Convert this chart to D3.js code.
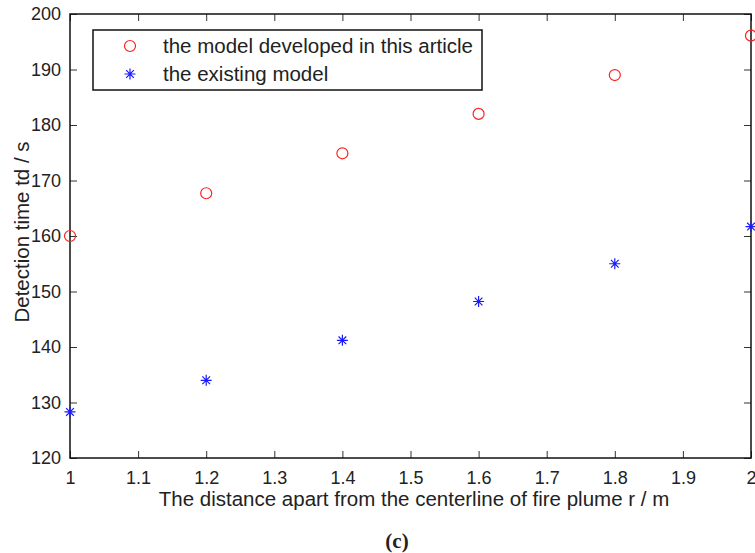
<!DOCTYPE html>
<html>
<head>
<meta charset="utf-8">
<script src="https://cdn.jsdelivr.net/npm/d3@7"></script>
<style>
  body { margin: 0; background: #fff; }
  text { font-family: "Liberation Sans", Arial, sans-serif; fill: #222; }
</style>
</head>
<body>
<div id="chart"></div>
<script>
(function(){

  // values
  var distances = [1, 1.2, 1.4, 1.6, 1.8, 2]
  var developedModel = [160, 167.7, 174.9, 182, 189, 196.1]
  var existingModel = [128.3, 134, 141.2, 148.2, 155, 161.7]
  var xTicks = [1, 1.1, 1.2, 1.3, 1.4, 1.5, 1.6, 1.7, 1.8, 1.9, 2]
  var yTicks = [120, 130, 140, 150, 160, 170, 180, 190, 200]

  var W = 755, H = 553
  var margin = { top: 14, right: 4, bottom: 95, left: 70 }
  var width = W - margin.left - margin.right,
      height = H - margin.top - margin.bottom

  var svg = d3.select("#chart").append("svg")
    .attr("width", W)
    .attr("height", H)

  var g = svg.append("g")
    .attr("transform", "translate(" + margin.left + "," + margin.top + ")")

  var x = d3.scaleLinear().domain([1, 2]).range([0, width])
  var y = d3.scaleLinear().domain([120, 200]).range([height, 0])

  var tickLen = 7

  // ticks on all 4 sides, pointing in
  g.append("g")
    .attr("transform", "translate(0," + height + ")")
    .call(d3.axisBottom(x).tickValues(xTicks).tickSize(-tickLen).tickPadding(tickLen + 6).tickFormat(d3.format("")))
    .call(function(a){ a.select(".domain").remove() })
  g.append("g")
    .call(d3.axisTop(x).tickValues(xTicks).tickSize(-tickLen).tickFormat(""))
    .call(function(a){ a.select(".domain").remove() })
  g.append("g")
    .call(d3.axisLeft(y).tickValues(yTicks).tickSize(-tickLen).tickPadding(tickLen + 2).tickFormat(d3.format("")))
    .call(function(a){ a.select(".domain").remove() })
  g.append("g")
    .attr("transform", "translate(" + width + ",0)")
    .call(d3.axisRight(y).tickValues(yTicks).tickSize(-tickLen).tickFormat(""))
    .call(function(a){ a.select(".domain").remove() })

  g.selectAll(".tick line").attr("stroke", "#333").attr("stroke-width", 1)
  g.selectAll(".tick text")
    .style("font-family", '"Liberation Sans", Arial, sans-serif')
    .style("font-size", "18px")
    .attr("fill", "#222")

  g.append("rect")
    .attr("width", width)
    .attr("height", height)
    .attr("fill", "none")
    .attr("stroke", "#111")
    .attr("stroke-width", 1.5)

  // markers
  function starPath(s) {
    var d = s * 0.7
    return "M" + (-s) + ",0L" + s + ",0M0," + (-s) + "L0," + s +
      "M" + (-d) + "," + (-d) + "L" + d + "," + d +
      "M" + (-d) + "," + d + "L" + d + "," + (-d)
  }

  g.selectAll(".developed")
    .data(distances)
    .enter().append("circle")
    .attr("class", "developed")
    .attr("cx", function(d){ return x(d) })
    .attr("cy", function(d, i){ return y(developedModel[i]) })
    .attr("r", 5.5)
    .attr("fill", "none")
    .attr("stroke", "#ff2020")
    .attr("stroke-width", 1.2)

  g.selectAll(".existing")
    .data(distances)
    .enter().append("path")
    .attr("class", "existing")
    .attr("transform", function(d, i){ return "translate(" + x(d) + "," + y(existingModel[i]) + ")" })
    .attr("d", starPath(5.5))
    .attr("stroke", "#1a1aff")
    .attr("stroke-width", 1.2)

  // legend
  var legend = svg.append("g").attr("transform", "translate(93,30)")
  legend.append("rect")
    .attr("width", 389)
    .attr("height", 60)
    .attr("fill", "#fff")
    .attr("stroke", "#111")
    .attr("stroke-width", 1.5)
  legend.append("circle")
    .attr("cx", 37).attr("cy", 16).attr("r", 5.5)
    .attr("fill", "none").attr("stroke", "#ff2020").attr("stroke-width", 1.2)
  legend.append("path")
    .attr("transform", "translate(37,44)")
    .attr("d", starPath(5.5))
    .attr("stroke", "#1a1aff").attr("stroke-width", 1.2)
  legend.append("text")
    .attr("x", 70).attr("y", 16).attr("dy", "0.35em")
    .style("font-size", "20.5px")
    .text("the model developed in this article")
  legend.append("text")
    .attr("x", 70).attr("y", 44).attr("dy", "0.35em")
    .style("font-size", "20.5px")
    .text("the existing model")

  // axis titles
  svg.append("text")
    .attr("x", 414)
    .attr("y", 499)
    .attr("dy", "0.35em")
    .attr("text-anchor", "middle")
    .style("font-size", "20.5px")
    .text("The distance apart from the centerline of fire plume r / m")

  svg.append("text")
    .attr("transform", "translate(22,232) rotate(-90)")
    .attr("dy", "0.35em")
    .attr("text-anchor", "middle")
    .style("font-size", "20.5px")
    .text("Detection time td / s")

  svg.append("text")
    .attr("x", 397)
    .attr("y", 541)
    .attr("dy", "0.35em")
    .attr("text-anchor", "middle")
    .style("font-family", '"Liberation Serif", "Times New Roman", serif')
    .style("font-weight", "bold")
    .style("font-size", "21px")
    .text("(c)")

})()
</script>
</body>
</html>
